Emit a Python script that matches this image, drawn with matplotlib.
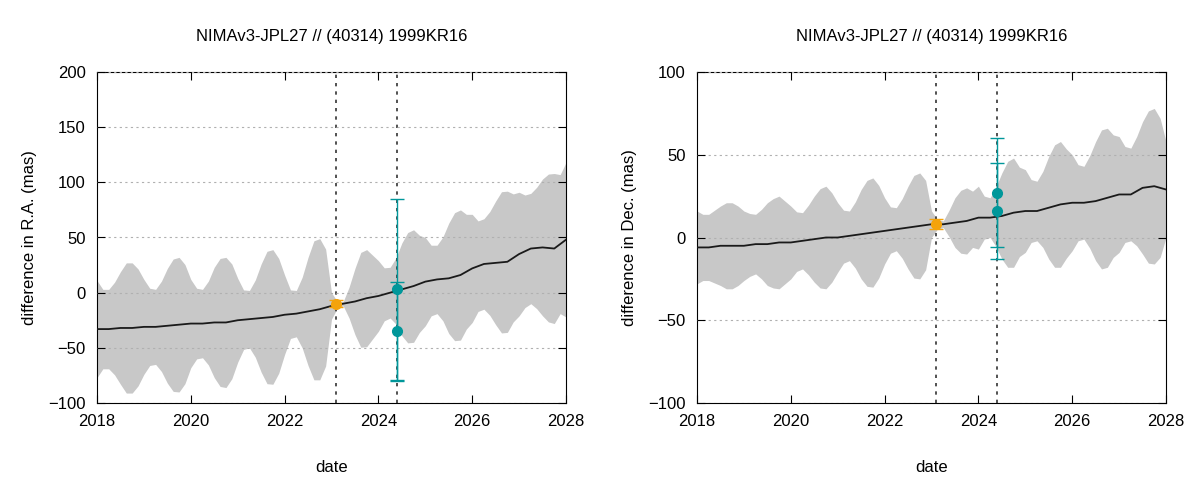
import numpy as np
import matplotlib.pyplot as plt

plt.rcParams['font.family'] = ['Liberation Sans', 'DejaVu Sans']

# centre line sampled every quarter year, band half width every eighth year
t_c = [2018 + 0.25 * k for k in range(41)]
t_b = [2018 + 0.125 * k for k in range(81)]

# R.A. panel (mas)
ra_center = [-33, -33, -32, -32, -31, -31, -30, -29, -28, -28, -27, -27,
             -25, -24, -23, -22, -20, -19, -17, -15, -12, -10, -8, -5,
             -3, 0, 3, 6, 10, 12, 13, 16, 22, 26, 27, 28, 35, 40, 41, 40, 48]
ra_half = [44, 36, 36, 42, 51, 59, 59, 53,
           43, 35, 34, 41, 52, 60, 61, 54,
           40, 32, 31, 38, 50, 58, 59, 52,
           38, 27, 26, 35, 49, 60, 61, 52,
           36, 22, 21, 32, 49, 63, 64, 53,
           12, 3, 2, 14, 30, 43, 44, 38,
           32, 24, 23, 30, 42, 50, 51, 44,
           40, 32, 31, 38, 50, 58, 59, 52,
           49, 41, 41, 47, 56, 64, 64, 58,
           56, 51, 50, 55, 62, 67, 68, 63,
           70]

# Dec. panel (mas)
de_center = [-6, -6, -5, -5, -5, -4, -4, -3, -3, -2, -1, 0,
             0, 1, 2, 3, 4, 5, 6, 7, 8, 8, 9, 10,
             12, 12, 13, 15, 16, 16, 18, 20, 21, 21, 22, 24, 26, 26, 30, 31, 29]
de_half = [22, 20, 20, 22, 24, 26, 26, 24,
           21, 19, 18, 21, 25, 27, 28, 25,
           22, 18, 17, 21, 26, 30, 31, 27,
           21, 16, 15, 20, 27, 32, 33, 28,
           20, 14, 13, 18, 25, 31, 32, 27,
           8, 3, 2, 8, 15, 19, 20, 17,
           19, 13, 12, 18, 26, 32, 33, 27,
           25, 19, 18, 23, 31, 37, 38, 33,
           29, 23, 22, 28, 36, 42, 42, 37,
           35, 29, 28, 33, 40, 46, 47, 42,
           29]

# observations
obs_t = [2023.1, 2024.4, 2024.4]
ra_obs = [-10, 3, -35]
ra_err = [3, 82, 45]
de_obs = [8, 27, 16]
de_err = [3, 33, 29]
obs_colors = ['#f4a30c', '#00979a', '#00979a']
vlines = [2023.1, 2024.4]

title = 'NIMAv3-JPL27 // (40314) 1999KR16'

fig = plt.figure(figsize=(12, 4.8), dpi=100)
ax1 = fig.add_axes([97 / 1200, 77 / 480, 469 / 1200, 331 / 480])
ax2 = fig.add_axes([697 / 1200, 77 / 480, 469 / 1200, 331 / 480])

panels = [(ax1, ra_center, ra_half, ra_obs, ra_err, (-100, 200), 'difference in R.A. (mas)'),
          (ax2, de_center, de_half, de_obs, de_err, (-100, 100), 'difference in Dec. (mas)')]

for ax, c, h, obs, err, ylim, ylabel in panels:
    cb = np.interp(t_b, t_c, c)
    h = np.array(h)
    ax.fill_between(t_b, cb - h, cb + h, color='#c8c8c8', lw=0, zorder=1)
    ax.plot(t_c, c, color='#1a1a1a', lw=1.3, zorder=3)
    for x in vlines:
        ax.axvline(x, color='#333333', ls=(0, (2, 3)), lw=1.2, zorder=2)
    for x, y, e, col in zip(obs_t, obs, err, obs_colors):
        ax.errorbar(x, y, yerr=e, fmt='o', color=col, ms=7, capsize=5, lw=1, zorder=5)
    ax.set_xlim(2018, 2028)
    ax.set_ylim(*ylim)
    ax.set_xticks(range(2018, 2029, 2))
    ax.set_yticks(np.arange(ylim[0], ylim[1] + 1, 50))
    ax.yaxis.grid(True, color='#b0b0b0', ls=(0, (2, 3)), lw=0.8)
    ax.set_axisbelow(False)
    ax.tick_params(direction='in', top=True, right=True, labelsize=12, pad=8, length=6)
    ax.set_xlabel('date', fontsize=12, labelpad=22)
    ax.set_ylabel(ylabel, fontsize=12, labelpad=8)
    ax.set_title(title, fontsize=12, pad=22)

fig.savefig('out.png')
